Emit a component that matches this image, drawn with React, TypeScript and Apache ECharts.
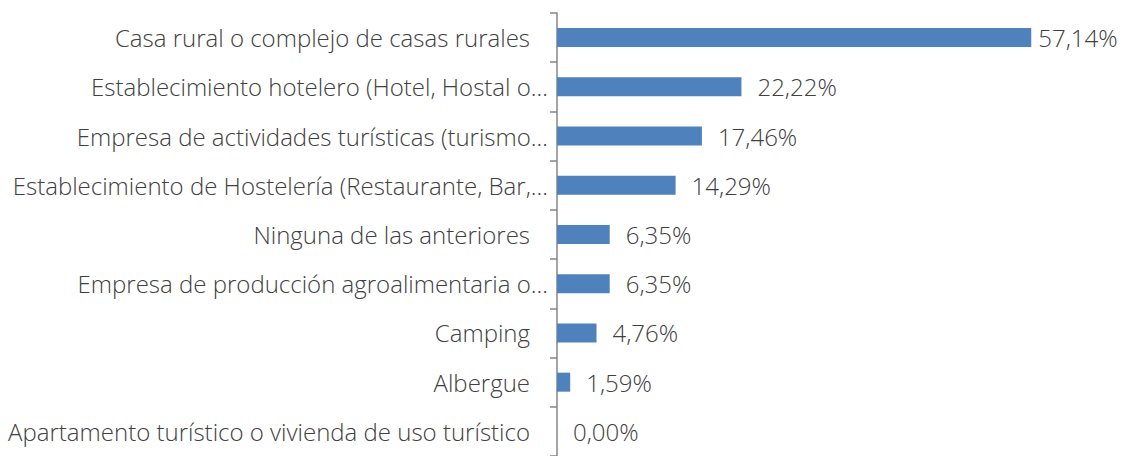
import React, { useEffect, useRef } from "react";
import * as echarts from "echarts";

const categories = [
  "Casa rural o complejo de casas rurales",
  "Establecimiento hotelero (Hotel, Hostal o…",
  "Empresa de actividades turísticas (turismo…",
  "Establecimiento de Hostelería (Restaurante, Bar,…",
  "Ninguna de las anteriores",
  "Empresa de producción agroalimentaria o…",
  "Camping",
  "Albergue",
  "Apartamento turístico o vivienda de uso turístico",
];
const values = [57.14, 22.22, 17.46, 14.29, 6.35, 6.35, 4.76, 1.59, 0.0];

const FONT = "Open Sans";

export default function App() {
  const ref = useRef<HTMLDivElement>(null);
  useEffect(() => {
    if (!ref.current) return;
    const chart = echarts.init(ref.current, null, { renderer: "svg" });
    const data = values.map((v, i) =>
      i === 0 ? { value: v, label: { distance: 7 } } : { value: v }
    );
    const txt = { color: "#404040", fontFamily: FONT, fontSize: 24, fontWeight: 300 };
    chart.setOption({
      animation: false,
      grid: {
        left: 557,
        right: 68,
        top: 13,
        bottom: 0,
        containLabel: false,
        outerBoundsMode: "none",
      },
      xAxis: { type: "value", min: 0, max: 60, show: false },
      yAxis: {
        type: "category",
        inverse: true,
        data: categories,
        axisLine: { show: true, lineStyle: { color: "#868686", width: 1.5 } },
        axisTick: { show: true, length: 7, lineStyle: { color: "#868686", width: 1.5 } },
        axisLabel: {
          margin: 9,
          ...txt,
          formatter: (s: string) => (s.endsWith("…") ? `{t|${s}}` : `{n|${s}}`),
          rich: {
            t: { ...txt },
            n: { ...txt, padding: [0, 18, 0, 0] },
          },
        },
        splitLine: { show: false },
      },
      series: [
        {
          type: "bar",
          data,
          barWidth: 19,
          itemStyle: { color: "#4F81BD" },
          label: {
            show: true,
            position: "right",
            distance: 16,
            ...txt,
            formatter: (p: any) => p.value.toFixed(2).replace(".", ",") + "%",
          },
        },
      ],
    });
    return () => chart.dispose();
  }, []);
  return (
    <div
      ref={ref}
      style={{ position: "fixed", left: 0, top: 0, width: 1123, height: 456, background: "#fff" }}
    />
  );
}
